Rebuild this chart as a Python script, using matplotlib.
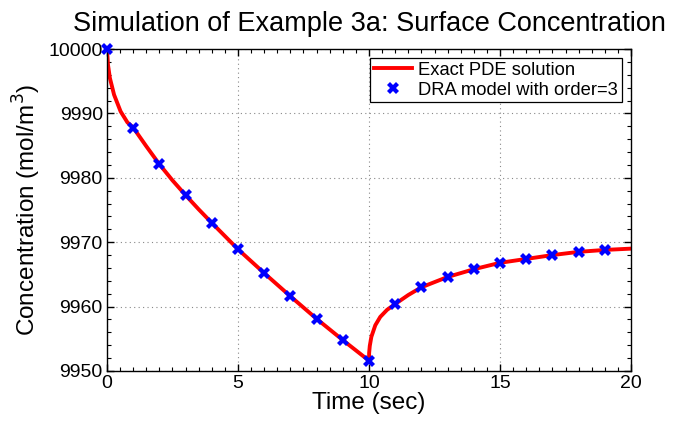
import matplotlib
matplotlib.use("Agg")
import matplotlib.pyplot as plt
from matplotlib.ticker import MultipleLocator

plt.rcParams['font.family'] = ['Liberation Sans', 'DejaVu Sans']

# Exact PDE solution
line_t = [0, 0.04, 0.11, 0.27, 0.52, 0.78, 1, 1.5, 2, 2.5, 3, 3.5, 4, 5, 6, 7, 8, 9, 10,
          10.005, 10.03, 10.09, 10.24, 10.43, 10.69, 11, 11.5, 12, 13, 14, 15, 16, 17, 18, 19, 20]
line_c = [10000, 9997.5, 9995.5, 9992.9, 9990.3, 9988.6, 9987.8, 9984.9, 9982.1, 9979.6, 9977.3,
          9975.1, 9973.0, 9968.9, 9965.2, 9961.6, 9958.1, 9954.8, 9951.6,
          9952.8, 9953.9, 9955.3, 9957.1, 9958.4, 9959.5, 9960.4, 9961.8, 9963.0, 9964.6,
          9965.8, 9966.8, 9967.4, 9968.0, 9968.5, 9968.8, 9969.0]

# DRA model with order=3
dra_t = list(range(0, 20))
dra_c = [10000, 9987.8, 9982.1, 9977.3, 9973.0, 9968.9, 9965.2, 9961.6, 9958.1, 9954.8,
         9951.6, 9960.4, 9963.0, 9964.6, 9965.8, 9966.8, 9967.4, 9968.0, 9968.5, 9968.8]

fig = plt.figure(figsize=(6.78, 4.21), dpi=100)
ax = fig.add_axes([0.1578, 0.1188, 0.7729, 0.7648])

ax.plot(line_t, line_c, color='red', lw=2.8, label='Exact PDE solution', zorder=2)
ax.plot(dra_t, dra_c, linestyle='none', marker='X', color='blue', markersize=8.5,
        markeredgewidth=0, label='DRA model with order=3', zorder=3, clip_on=False)

ax.set_xlim(0, 20)
ax.set_ylim(9950, 10000)
ax.xaxis.set_major_locator(MultipleLocator(5))
ax.xaxis.set_minor_locator(MultipleLocator(0.5))
ax.yaxis.set_major_locator(MultipleLocator(10))
ax.yaxis.set_minor_locator(MultipleLocator(2))
ax.tick_params(which='both', direction='in', top=True, right=True, labelsize=14, pad=3)
ax.tick_params(which='major', length=5, width=1)
ax.tick_params(which='minor', length=3, width=0.8)
ax.grid(True, which='major', linestyle=(0, (1, 3)), color='#888888', linewidth=0.8)
for s in ax.spines.values():
    s.set_linewidth(1.0)

ax.set_title('Simulation of Example 3a: Surface Concentration', fontsize=19.5, pad=13)
ax.set_xlabel('Time (sec)', fontsize=17.5, labelpad=0)
ax.set_ylabel('Concentration (mol/m$^3$)', fontsize=17.5, labelpad=4)

leg = ax.legend(loc='upper right', fontsize=13.2, fancybox=False, framealpha=1,
                edgecolor='black', borderaxespad=0.5, handlelength=2.1, borderpad=0.2,
                labelspacing=0.15, handletextpad=0.35)
leg.get_frame().set_linewidth(0.9)

fig.savefig('out.png', dpi=100)
